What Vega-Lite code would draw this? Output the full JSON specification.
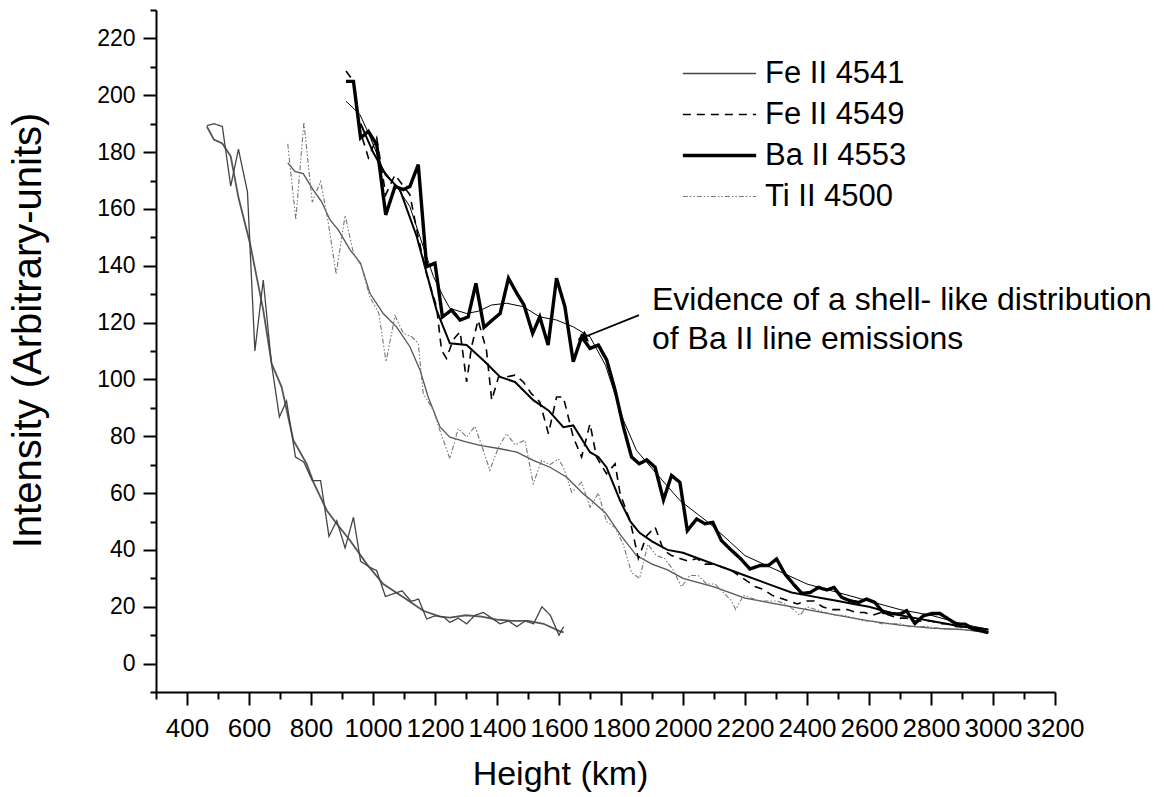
{
  "$schema": "https://vega.github.io/schema/vega-lite/v6.json",
  "width": 899,
  "height": 682,
  "autosize": {"type": "none"},
  "padding": {"left": 156, "top": 10, "right": 109, "bottom": 105},
  "background": "white",
  "config": {
    "font": "Liberation Sans",
    "view": {"stroke": null},
    "axis": {"grid": false, "domainColor": "#000", "domainWidth": 2, "tickColor": "#000", "tickWidth": 2, "labelColor": "#000", "titleColor": "#000", "labelFont": "Liberation Sans", "titleFont": "Liberation Sans", "titleFontWeight": "normal"}
  },
  "datasets": {
    "raw": [
      {"s":"Fe II 4541","x":464,"y":189.3},{"s":"Fe II 4541","x":487,"y":190},{"s":"Fe II 4541","x":514,"y":189},{"s":"Fe II 4541","x":541,"y":168},{"s":"Fe II 4541","x":566,"y":181},{"s":"Fe II 4541","x":595,"y":166},{"s":"Fe II 4541","x":619,"y":110},{"s":"Fe II 4541","x":646,"y":135},{"s":"Fe II 4541","x":672,"y":106},{"s":"Fe II 4541","x":698,"y":86.8},{"s":"Fe II 4541","x":721,"y":92.4},{"s":"Fe II 4541","x":750,"y":72.7},{"s":"Fe II 4541","x":777,"y":70.9},{"s":"Fe II 4541","x":804,"y":64.4},{"s":"Fe II 4541","x":831,"y":64.4},{"s":"Fe II 4541","x":858,"y":44.8},{"s":"Fe II 4541","x":883,"y":50.3},{"s":"Fe II 4541","x":910,"y":40.7},{"s":"Fe II 4541","x":937,"y":51.5},{"s":"Fe II 4541","x":960,"y":36},{"s":"Fe II 4541","x":990,"y":33.9},{"s":"Fe II 4541","x":1012,"y":32.7},{"s":"Fe II 4541","x":1040,"y":23.6},{"s":"Fe II 4541","x":1069,"y":24.7},{"s":"Fe II 4541","x":1094,"y":25.6},{"s":"Fe II 4541","x":1123,"y":21.9},{"s":"Fe II 4541","x":1147,"y":22.7},{"s":"Fe II 4541","x":1173,"y":15.7},{"s":"Fe II 4541","x":1200,"y":16.8},{"s":"Fe II 4541","x":1227,"y":16.5},{"s":"Fe II 4541","x":1248,"y":14.5},{"s":"Fe II 4541","x":1275,"y":16},{"s":"Fe II 4541","x":1302,"y":14},{"s":"Fe II 4541","x":1329,"y":17},{"s":"Fe II 4541","x":1356,"y":18},{"s":"Fe II 4541","x":1383,"y":16},{"s":"Fe II 4541","x":1410,"y":14},{"s":"Fe II 4541","x":1437,"y":15},{"s":"Fe II 4541","x":1464,"y":13},{"s":"Fe II 4541","x":1491,"y":15},{"s":"Fe II 4541","x":1518,"y":14},{"s":"Fe II 4541","x":1545,"y":20},{"s":"Fe II 4541","x":1572,"y":17},{"s":"Fe II 4541","x":1600,"y":10},{"s":"Fe II 4541","x":1615,"y":13},

      {"s":"Ti II 4500","x":725,"y":182.9},{"s":"Ti II 4500","x":751,"y":156.2},{"s":"Ti II 4500","x":777,"y":190.5},{"s":"Ti II 4500","x":804,"y":162.4},{"s":"Ti II 4500","x":831,"y":169.7},{"s":"Ti II 4500","x":856,"y":155},{"s":"Ti II 4500","x":881,"y":137.1},{"s":"Ti II 4500","x":910,"y":157.7},{"s":"Ti II 4500","x":937,"y":144.4},{"s":"Ti II 4500","x":963,"y":139.7},{"s":"Ti II 4500","x":990,"y":129},{"s":"Ti II 4500","x":1019,"y":123.2},{"s":"Ti II 4500","x":1042,"y":106.2},{"s":"Ti II 4500","x":1071,"y":122.4},{"s":"Ti II 4500","x":1098,"y":116.2},{"s":"Ti II 4500","x":1125,"y":115},{"s":"Ti II 4500","x":1146,"y":112.7},{"s":"Ti II 4500","x":1162,"y":95},{"s":"Ti II 4500","x":1195,"y":89.1},{"s":"Ti II 4500","x":1216,"y":82},{"s":"Ti II 4500","x":1248,"y":72.1},{"s":"Ti II 4500","x":1275,"y":82.7},{"s":"Ti II 4500","x":1302,"y":79.7},{"s":"Ti II 4500","x":1329,"y":83.5},{"s":"Ti II 4500","x":1356,"y":75},{"s":"Ti II 4500","x":1377,"y":68},{"s":"Ti II 4500","x":1404,"y":76},{"s":"Ti II 4500","x":1431,"y":80.9},{"s":"Ti II 4500","x":1458,"y":77},{"s":"Ti II 4500","x":1490,"y":78.6},{"s":"Ti II 4500","x":1517,"y":63.3},{"s":"Ti II 4500","x":1544,"y":71.5},{"s":"Ti II 4500","x":1571,"y":70},{"s":"Ti II 4500","x":1598,"y":72},{"s":"Ti II 4500","x":1614,"y":69.1},{"s":"Ti II 4500","x":1641,"y":60.3},{"s":"Ti II 4500","x":1673,"y":63.8},{"s":"Ti II 4500","x":1700,"y":55},{"s":"Ti II 4500","x":1727,"y":60},{"s":"Ti II 4500","x":1753,"y":50},{"s":"Ti II 4500","x":1780,"y":48},{"s":"Ti II 4500","x":1807,"y":42},{"s":"Ti II 4500","x":1834,"y":32},{"s":"Ti II 4500","x":1860,"y":30},{"s":"Ti II 4500","x":1887,"y":42},{"s":"Ti II 4500","x":1914,"y":38},{"s":"Ti II 4500","x":1941,"y":37},{"s":"Ti II 4500","x":1968,"y":33},{"s":"Ti II 4500","x":1995,"y":27},{"s":"Ti II 4500","x":2022,"y":31},{"s":"Ti II 4500","x":2049,"y":31},{"s":"Ti II 4500","x":2076,"y":28},{"s":"Ti II 4500","x":2103,"y":28},{"s":"Ti II 4500","x":2130,"y":25},{"s":"Ti II 4500","x":2157,"y":22},{"s":"Ti II 4500","x":2170,"y":19},{"s":"Ti II 4500","x":2195,"y":24},{"s":"Ti II 4500","x":2222,"y":23},{"s":"Ti II 4500","x":2249,"y":22},{"s":"Ti II 4500","x":2276,"y":22},{"s":"Ti II 4500","x":2303,"y":22},{"s":"Ti II 4500","x":2330,"y":21},{"s":"Ti II 4500","x":2357,"y":19},{"s":"Ti II 4500","x":2377,"y":17},{"s":"Ti II 4500","x":2400,"y":20},{"s":"Ti II 4500","x":2430,"y":19},{"s":"Ti II 4500","x":2460,"y":18},{"s":"Ti II 4500","x":2490,"y":17},{"s":"Ti II 4500","x":2520,"y":17},{"s":"Ti II 4500","x":2550,"y":16},{"s":"Ti II 4500","x":2580,"y":15},{"s":"Ti II 4500","x":2610,"y":15},{"s":"Ti II 4500","x":2640,"y":14},{"s":"Ti II 4500","x":2670,"y":14},{"s":"Ti II 4500","x":2700,"y":14},{"s":"Ti II 4500","x":2730,"y":13},{"s":"Ti II 4500","x":2760,"y":13},{"s":"Ti II 4500","x":2790,"y":13},{"s":"Ti II 4500","x":2820,"y":12.5},{"s":"Ti II 4500","x":2850,"y":12},{"s":"Ti II 4500","x":2880,"y":12},{"s":"Ti II 4500","x":2910,"y":12},{"s":"Ti II 4500","x":2940,"y":11.5},{"s":"Ti II 4500","x":2970,"y":11},{"s":"Ti II 4500","x":2985,"y":11},

      {"s":"Fe II 4549","x":913,"y":208.5},{"s":"Fe II 4549","x":937,"y":205},{"s":"Fe II 4549","x":960,"y":187},{"s":"Fe II 4549","x":985,"y":178},{"s":"Fe II 4549","x":1012,"y":185},{"s":"Fe II 4549","x":1041,"y":165},{"s":"Fe II 4549","x":1071,"y":172},{"s":"Fe II 4549","x":1098,"y":168},{"s":"Fe II 4549","x":1119,"y":165},{"s":"Fe II 4549","x":1146,"y":150},{"s":"Fe II 4549","x":1173,"y":137},{"s":"Fe II 4549","x":1205,"y":125.6},{"s":"Fe II 4549","x":1221,"y":110.3},{"s":"Fe II 4549","x":1237,"y":107.4},{"s":"Fe II 4549","x":1259,"y":114},{"s":"Fe II 4549","x":1281,"y":116.8},{"s":"Fe II 4549","x":1302,"y":99.1},{"s":"Fe II 4549","x":1318,"y":111.5},{"s":"Fe II 4549","x":1339,"y":120.9},{"s":"Fe II 4549","x":1366,"y":110.3},{"s":"Fe II 4549","x":1383,"y":92.7},{"s":"Fe II 4549","x":1405,"y":100.9},{"s":"Fe II 4549","x":1431,"y":100.9},{"s":"Fe II 4549","x":1458,"y":101.5},{"s":"Fe II 4549","x":1485,"y":99.1},{"s":"Fe II 4549","x":1511,"y":95},{"s":"Fe II 4549","x":1538,"y":92.1},{"s":"Fe II 4549","x":1566,"y":80.9},{"s":"Fe II 4549","x":1592,"y":93.8},{"s":"Fe II 4549","x":1614,"y":93.8},{"s":"Fe II 4549","x":1646,"y":79.7},{"s":"Fe II 4549","x":1673,"y":72.7},{"s":"Fe II 4549","x":1700,"y":84.4},{"s":"Fe II 4549","x":1721,"y":72.7},{"s":"Fe II 4549","x":1753,"y":66.8},{"s":"Fe II 4549","x":1781,"y":70.3},{"s":"Fe II 4549","x":1797,"y":59.8},{"s":"Fe II 4549","x":1830,"y":50},{"s":"Fe II 4549","x":1856,"y":37},{"s":"Fe II 4549","x":1883,"y":45},{"s":"Fe II 4549","x":1910,"y":48},{"s":"Fe II 4549","x":1937,"y":40},{"s":"Fe II 4549","x":1963,"y":38},{"s":"Fe II 4549","x":1990,"y":37},{"s":"Fe II 4549","x":2017,"y":36},{"s":"Fe II 4549","x":2044,"y":37},{"s":"Fe II 4549","x":2071,"y":35},{"s":"Fe II 4549","x":2098,"y":35},{"s":"Fe II 4549","x":2125,"y":34},{"s":"Fe II 4549","x":2152,"y":33},{"s":"Fe II 4549","x":2180,"y":31},{"s":"Fe II 4549","x":2207,"y":29},{"s":"Fe II 4549","x":2234,"y":27},{"s":"Fe II 4549","x":2261,"y":26},{"s":"Fe II 4549","x":2288,"y":24},{"s":"Fe II 4549","x":2315,"y":23},{"s":"Fe II 4549","x":2342,"y":22},{"s":"Fe II 4549","x":2369,"y":21},{"s":"Fe II 4549","x":2396,"y":22},{"s":"Fe II 4549","x":2423,"y":22},{"s":"Fe II 4549","x":2450,"y":20},{"s":"Fe II 4549","x":2477,"y":19},{"s":"Fe II 4549","x":2504,"y":19},{"s":"Fe II 4549","x":2531,"y":19},{"s":"Fe II 4549","x":2558,"y":18},{"s":"Fe II 4549","x":2585,"y":18},{"s":"Fe II 4549","x":2612,"y":17},{"s":"Fe II 4549","x":2639,"y":18},{"s":"Fe II 4549","x":2666,"y":17},{"s":"Fe II 4549","x":2693,"y":16},{"s":"Fe II 4549","x":2720,"y":16},{"s":"Fe II 4549","x":2747,"y":15},{"s":"Fe II 4549","x":2774,"y":15},{"s":"Fe II 4549","x":2801,"y":15},{"s":"Fe II 4549","x":2828,"y":14},{"s":"Fe II 4549","x":2855,"y":14},{"s":"Fe II 4549","x":2882,"y":13},{"s":"Fe II 4549","x":2909,"y":13},{"s":"Fe II 4549","x":2936,"y":12},{"s":"Fe II 4549","x":2963,"y":11.5},{"s":"Fe II 4549","x":2985,"y":11},

      {"s":"Ba II 4553","x":913,"y":204.9},{"s":"Ba II 4553","x":937,"y":204.9},{"s":"Ba II 4553","x":960,"y":185},{"s":"Ba II 4553","x":985,"y":187.3},{"s":"Ba II 4553","x":1012,"y":182.6},{"s":"Ba II 4553","x":1041,"y":157.9},{"s":"Ba II 4553","x":1071,"y":167.9},{"s":"Ba II 4553","x":1098,"y":166.8},{"s":"Ba II 4553","x":1119,"y":167.9},{"s":"Ba II 4553","x":1146,"y":175.6},{"s":"Ba II 4553","x":1173,"y":139.7},{"s":"Ba II 4553","x":1200,"y":140.9},{"s":"Ba II 4553","x":1224,"y":122},{"s":"Ba II 4553","x":1253,"y":124.4},{"s":"Ba II 4553","x":1281,"y":120.9},{"s":"Ba II 4553","x":1307,"y":122},{"s":"Ba II 4553","x":1332,"y":133.8},{"s":"Ba II 4553","x":1358,"y":118.3},{"s":"Ba II 4553","x":1385,"y":120.9},{"s":"Ba II 4553","x":1410,"y":123.2},{"s":"Ba II 4553","x":1437,"y":135.6},{"s":"Ba II 4553","x":1464,"y":130.3},{"s":"Ba II 4553","x":1487,"y":126.2},{"s":"Ba II 4553","x":1515,"y":116.2},{"s":"Ba II 4553","x":1538,"y":122},{"s":"Ba II 4553","x":1565,"y":112.1},{"s":"Ba II 4553","x":1592,"y":135.6},{"s":"Ba II 4553","x":1619,"y":125.6},{"s":"Ba II 4553","x":1646,"y":106.2},{"s":"Ba II 4553","x":1673,"y":115},{"s":"Ba II 4553","x":1700,"y":110.9},{"s":"Ba II 4553","x":1727,"y":112.1},{"s":"Ba II 4553","x":1754,"y":106.8},{"s":"Ba II 4553","x":1781,"y":96.2},{"s":"Ba II 4553","x":1808,"y":83.2},{"s":"Ba II 4553","x":1834,"y":72.7},{"s":"Ba II 4553","x":1859,"y":70.3},{"s":"Ba II 4553","x":1883,"y":71.7},{"s":"Ba II 4553","x":1910,"y":69.1},{"s":"Ba II 4553","x":1937,"y":57.6},{"s":"Ba II 4553","x":1963,"y":66.2},{"s":"Ba II 4553","x":1990,"y":63.8},{"s":"Ba II 4553","x":2014,"y":46.8},{"s":"Ba II 4553","x":2044,"y":50.9},{"s":"Ba II 4553","x":2071,"y":49.2},{"s":"Ba II 4553","x":2096,"y":49.7},{"s":"Ba II 4553","x":2124,"y":43.3},{"s":"Ba II 4553","x":2152,"y":40.3},{"s":"Ba II 4553","x":2185,"y":37},{"s":"Ba II 4553","x":2216,"y":33.3},{"s":"Ba II 4553","x":2248,"y":34.5},{"s":"Ba II 4553","x":2275,"y":34.5},{"s":"Ba II 4553","x":2302,"y":36.8},{"s":"Ba II 4553","x":2329,"y":31.5},{"s":"Ba II 4553","x":2356,"y":28},{"s":"Ba II 4553","x":2383,"y":24.7},{"s":"Ba II 4553","x":2410,"y":25},{"s":"Ba II 4553","x":2437,"y":26.8},{"s":"Ba II 4553","x":2464,"y":25.9},{"s":"Ba II 4553","x":2487,"y":26.8},{"s":"Ba II 4553","x":2512,"y":23.3},{"s":"Ba II 4553","x":2539,"y":22.1},{"s":"Ba II 4553","x":2566,"y":21.5},{"s":"Ba II 4553","x":2592,"y":22.7},{"s":"Ba II 4553","x":2619,"y":21.5},{"s":"Ba II 4553","x":2646,"y":18},{"s":"Ba II 4553","x":2673,"y":17.6},{"s":"Ba II 4553","x":2700,"y":17.4},{"s":"Ba II 4553","x":2721,"y":18.6},{"s":"Ba II 4553","x":2748,"y":14.1},{"s":"Ba II 4553","x":2775,"y":16.8},{"s":"Ba II 4553","x":2802,"y":17.6},{"s":"Ba II 4553","x":2829,"y":17.6},{"s":"Ba II 4553","x":2856,"y":15.7},{"s":"Ba II 4553","x":2882,"y":13.9},{"s":"Ba II 4553","x":2910,"y":13.9},{"s":"Ba II 4553","x":2937,"y":12.1},{"s":"Ba II 4553","x":2963,"y":11.5},{"s":"Ba II 4553","x":2985,"y":10.9}
    ],
    "fit": [
      {"s":"Fe II 4541","x":464,"y":189},{"s":"Fe II 4541","x":487,"y":184.4},{"s":"Fe II 4541","x":514,"y":183},{"s":"Fe II 4541","x":541,"y":178.5},{"s":"Fe II 4541","x":566,"y":164},{"s":"Fe II 4541","x":603,"y":148},{"s":"Fe II 4541","x":646,"y":124.4},{"s":"Fe II 4541","x":673,"y":105.6},{"s":"Fe II 4541","x":705,"y":97.4},{"s":"Fe II 4541","x":743,"y":78.6},{"s":"Fe II 4541","x":786,"y":70.3},{"s":"Fe II 4541","x":808,"y":63.8},{"s":"Fe II 4541","x":851,"y":53.9},{"s":"Fe II 4541","x":883,"y":49.2},{"s":"Fe II 4541","x":926,"y":43.3},{"s":"Fe II 4541","x":980,"y":35},{"s":"Fe II 4541","x":1033,"y":28},{"s":"Fe II 4541","x":1098,"y":23.3},{"s":"Fe II 4541","x":1162,"y":18.6},{"s":"Fe II 4541","x":1216,"y":16.5},{"s":"Fe II 4541","x":1248,"y":16.2},{"s":"Fe II 4541","x":1300,"y":17},{"s":"Fe II 4541","x":1350,"y":16.5},{"s":"Fe II 4541","x":1400,"y":15.5},{"s":"Fe II 4541","x":1450,"y":15},{"s":"Fe II 4541","x":1500,"y":15},{"s":"Fe II 4541","x":1550,"y":14},{"s":"Fe II 4541","x":1600,"y":11.5},{"s":"Fe II 4541","x":1615,"y":11},

      {"s":"Ti II 4500","x":725,"y":176.2},{"s":"Ti II 4500","x":748,"y":173.2},{"s":"Ti II 4500","x":775,"y":172.4},{"s":"Ti II 4500","x":807,"y":166.7},{"s":"Ti II 4500","x":834,"y":162.6},{"s":"Ti II 4500","x":861,"y":156.2},{"s":"Ti II 4500","x":888,"y":152.6},{"s":"Ti II 4500","x":926,"y":145.6},{"s":"Ti II 4500","x":960,"y":140.9},{"s":"Ti II 4500","x":990,"y":130.3},{"s":"Ti II 4500","x":1033,"y":123.2},{"s":"Ti II 4500","x":1076,"y":118.5},{"s":"Ti II 4500","x":1119,"y":111.5},{"s":"Ti II 4500","x":1152,"y":103.2},{"s":"Ti II 4500","x":1178,"y":93.8},{"s":"Ti II 4500","x":1216,"y":83.3},{"s":"Ti II 4500","x":1248,"y":79.7},{"s":"Ti II 4500","x":1300,"y":78},{"s":"Ti II 4500","x":1345,"y":76.8},{"s":"Ti II 4500","x":1410,"y":75.6},{"s":"Ti II 4500","x":1464,"y":74.4},{"s":"Ti II 4500","x":1517,"y":71.5},{"s":"Ti II 4500","x":1571,"y":69.1},{"s":"Ti II 4500","x":1625,"y":65.6},{"s":"Ti II 4500","x":1678,"y":59.8},{"s":"Ti II 4500","x":1705,"y":57.4},{"s":"Ti II 4500","x":1750,"y":53},{"s":"Ti II 4500","x":1800,"y":45},{"s":"Ti II 4500","x":1850,"y":38},{"s":"Ti II 4500","x":1900,"y":35},{"s":"Ti II 4500","x":1950,"y":33},{"s":"Ti II 4500","x":2000,"y":30},{"s":"Ti II 4500","x":2100,"y":27},{"s":"Ti II 4500","x":2200,"y":23},{"s":"Ti II 4500","x":2300,"y":21},{"s":"Ti II 4500","x":2400,"y":19},{"s":"Ti II 4500","x":2500,"y":17},{"s":"Ti II 4500","x":2600,"y":15},{"s":"Ti II 4500","x":2700,"y":13.5},{"s":"Ti II 4500","x":2800,"y":12.5},{"s":"Ti II 4500","x":2900,"y":12},{"s":"Ti II 4500","x":2985,"y":11},

      {"s":"Fe II 4549","x":960,"y":190},{"s":"Fe II 4549","x":1000,"y":180},{"s":"Fe II 4549","x":1041,"y":172},{"s":"Fe II 4549","x":1087,"y":166.7},{"s":"Fe II 4549","x":1141,"y":150.3},{"s":"Fe II 4549","x":1173,"y":137.4},{"s":"Fe II 4549","x":1205,"y":124.4},{"s":"Fe II 4549","x":1248,"y":112.7},{"s":"Fe II 4549","x":1302,"y":112.1},{"s":"Fe II 4549","x":1361,"y":106.2},{"s":"Fe II 4549","x":1410,"y":100.9},{"s":"Fe II 4549","x":1458,"y":99.1},{"s":"Fe II 4549","x":1517,"y":92.7},{"s":"Fe II 4549","x":1566,"y":89.1},{"s":"Fe II 4549","x":1614,"y":83.2},{"s":"Fe II 4549","x":1646,"y":83.8},{"s":"Fe II 4549","x":1700,"y":74.4},{"s":"Fe II 4549","x":1727,"y":72.7},{"s":"Fe II 4549","x":1753,"y":69.1},{"s":"Fe II 4549","x":1797,"y":57.4},{"s":"Fe II 4549","x":1830,"y":50},{"s":"Fe II 4549","x":1860,"y":46},{"s":"Fe II 4549","x":1900,"y":43},{"s":"Fe II 4549","x":1950,"y":40},{"s":"Fe II 4549","x":2000,"y":39},{"s":"Fe II 4549","x":2050,"y":37},{"s":"Fe II 4549","x":2100,"y":35},{"s":"Fe II 4549","x":2150,"y":33},{"s":"Fe II 4549","x":2200,"y":31},{"s":"Fe II 4549","x":2250,"y":29},{"s":"Fe II 4549","x":2300,"y":27},{"s":"Fe II 4549","x":2350,"y":25},{"s":"Fe II 4549","x":2400,"y":24},{"s":"Fe II 4549","x":2450,"y":23},{"s":"Fe II 4549","x":2500,"y":22},{"s":"Fe II 4549","x":2550,"y":21},{"s":"Fe II 4549","x":2600,"y":20},{"s":"Fe II 4549","x":2650,"y":18.5},{"s":"Fe II 4549","x":2700,"y":17},{"s":"Fe II 4549","x":2750,"y":16},{"s":"Fe II 4549","x":2800,"y":15},{"s":"Fe II 4549","x":2850,"y":14},{"s":"Fe II 4549","x":2900,"y":13},{"s":"Fe II 4549","x":2950,"y":12.5},{"s":"Fe II 4549","x":2985,"y":12},

      {"s":"Ba II 4553","x":913,"y":197.9},{"s":"Ba II 4553","x":958,"y":193.2},{"s":"Ba II 4553","x":990,"y":185.5},{"s":"Ba II 4553","x":1033,"y":173.8},{"s":"Ba II 4553","x":1076,"y":167.9},{"s":"Ba II 4553","x":1119,"y":160.8},{"s":"Ba II 4553","x":1162,"y":146.7},{"s":"Ba II 4553","x":1195,"y":136.2},{"s":"Ba II 4553","x":1227,"y":129.1},{"s":"Ba II 4553","x":1248,"y":125},{"s":"Ba II 4553","x":1302,"y":123.2},{"s":"Ba II 4553","x":1340,"y":124},{"s":"Ba II 4553","x":1383,"y":126.2},{"s":"Ba II 4553","x":1431,"y":126.8},{"s":"Ba II 4553","x":1485,"y":125.6},{"s":"Ba II 4553","x":1538,"y":122},{"s":"Ba II 4553","x":1592,"y":120.9},{"s":"Ba II 4553","x":1646,"y":118.5},{"s":"Ba II 4553","x":1700,"y":115},{"s":"Ba II 4553","x":1750,"y":105},{"s":"Ba II 4553","x":1808,"y":85.6},{"s":"Ba II 4553","x":1850,"y":75},{"s":"Ba II 4553","x":1910,"y":67.4},{"s":"Ba II 4553","x":1990,"y":57.4},{"s":"Ba II 4553","x":2087,"y":49.2},{"s":"Ba II 4553","x":2150,"y":43},{"s":"Ba II 4553","x":2200,"y":38},{"s":"Ba II 4553","x":2300,"y":33},{"s":"Ba II 4553","x":2400,"y":28},{"s":"Ba II 4553","x":2500,"y":25},{"s":"Ba II 4553","x":2600,"y":22},{"s":"Ba II 4553","x":2700,"y":19},{"s":"Ba II 4553","x":2800,"y":17},{"s":"Ba II 4553","x":2900,"y":14},{"s":"Ba II 4553","x":2985,"y":12}
    ],
    "note": [
      {"x":1900,"y":124.4,"t":"Evidence of a shell- like distribution"},
      {"x":1900,"y":110.7,"t":"of Ba II line emissions"}
    ],
    "arrow": [
      {"x":1858,"y":122.6,"x2":1668,"y2":114.3}
    ],
    "head": [
      {"x":1675,"y":114.6}
    ]
  },
  "encoding": {
    "x": {
      "field": "x", "type": "quantitative",
      "scale": {"domain": [300, 3200], "nice": false, "zero": false},
      "axis": {
        "title": "Height (km)", "titleFontSize": 34, "titleX": 404, "titleY": 92, "titleBaseline": "alphabetic", "titleAlign": "center", "titleAnchor": null,
        "values": [300,400,500,600,700,800,900,1000,1100,1200,1300,1400,1500,1600,1700,1800,1900,2000,2100,2200,2300,2400,2500,2600,2700,2800,2900,3000,3100,3200],
        "format": "d",
        "labelExpr": "datum.value % 200 === 0 ? datum.label : ''",
        "labelFontSize": 26, "labelPadding": 10, "labelOverlap": false, "labelFlush": false,
        "tickSize": {"condition": {"test": "datum.value % 200 === 0", "value": 13}, "value": 7}
      }
    },
    "y": {
      "field": "y", "type": "quantitative",
      "scale": {"domain": [-10, 230], "nice": false, "zero": false},
      "axis": {
        "title": "Intensity (Arbitrary-units)", "titleFontSize": 40, "titleAngle": -90, "titleX": -116, "titleY": 320, "titleBaseline": "alphabetic", "titleAlign": "center", "titleAnchor": null,
        "values": [-10,0,10,20,30,40,50,60,70,80,90,100,110,120,130,140,150,160,170,180,190,200,210,220,230],
        "format": "d",
        "labelExpr": "datum.value % 20 === 0 ? datum.label : ''",
        "labelFontSize": 23, "labelPadding": 8, "labelOverlap": false, "labelFlush": false,
        "tickSize": {"condition": {"test": "datum.value % 20 === 0", "value": 13}, "value": 6}
      }
    }
  },
  "layer": [
    {
      "data": {"name": "fit"},
      "transform": [{"filter": "datum.s === 'Fe II 4541'"}],
      "mark": {"type": "line", "color": "#555555", "strokeWidth": 1.8},
      "encoding": {}
    },
    {
      "data": {"name": "fit"},
      "transform": [{"filter": "datum.s === 'Ti II 4500'"}],
      "mark": {"type": "line", "color": "#555555", "strokeWidth": 1.3},
      "encoding": {}
    },
    {
      "data": {"name": "raw"},
      "mark": {"type": "line", "strokeCap": "butt", "strokeJoin": "miter"},
      "encoding": {
        "detail": {"field": "s", "type": "nominal"},
        "color": {"field": "s", "type": "nominal", "title": null,
          "scale": {"domain": ["Fe II 4541","Fe II 4549","Ba II 4553","Ti II 4500"], "range": ["#444444","#000000","#000000","#777777"]},
          "legend": {"orient": "none", "legendX": 548, "legendY": 48, "padding": 0, "symbolType": "M-7.33,0H7.33", "symbolSize": 100, "labelFontSize": 31, "labelOffset": 30, "rowPadding": 9, "labelColor": "#000", "labelBaseline": "middle", "labelExpr": "datum.label === 'Fe II 4549' ? '\u00a0Fe II 4549' : datum.label"}},
        "strokeDash": {"field": "s", "type": "nominal", "title": null,
          "scale": {"domain": ["Fe II 4541","Fe II 4549","Ba II 4553","Ti II 4500"], "range": [[1,0],[8,6],[1,0],[5,2,1.5,2,1.5,2]]},
          "legend": {"orient": "none", "legendX": 548, "legendY": 48, "padding": 0, "symbolType": "M-7.33,0H7.33", "symbolSize": 100, "labelFontSize": 31, "labelOffset": 30, "rowPadding": 9, "labelColor": "#000", "labelBaseline": "middle", "labelExpr": "datum.label === 'Fe II 4549' ? '\u00a0Fe II 4549' : datum.label"}},
        "strokeWidth": {"field": "s", "type": "nominal", "title": null,
          "scale": {"type": "ordinal", "domain": ["Fe II 4541","Fe II 4549","Ba II 4553","Ti II 4500"], "range": [1.3,1.6,3.4,1.1]},
          "legend": {"orient": "none", "legendX": 548, "legendY": 48, "padding": 0, "symbolType": "M-7.33,0H7.33", "symbolSize": 100, "labelFontSize": 31, "labelOffset": 30, "rowPadding": 9, "labelColor": "#000", "labelBaseline": "middle", "labelExpr": "datum.label === 'Fe II 4549' ? '\u00a0Fe II 4549' : datum.label"}}
      }
    },
    {
      "data": {"name": "fit"},
      "transform": [{"filter": "datum.s === 'Fe II 4549'"}],
      "mark": {"type": "line", "color": "#000000", "strokeWidth": 2},
      "encoding": {}
    },
    {
      "data": {"name": "fit"},
      "transform": [{"filter": "datum.s === 'Ba II 4553'"}],
      "mark": {"type": "line", "color": "#000000", "strokeWidth": 1},
      "encoding": {}
    },
    {
      "data": {"name": "note"},
      "mark": {"type": "text", "align": "left", "baseline": "alphabetic", "fontSize": 32, "color": "#000", "font": "Liberation Sans"},
      "encoding": {"text": {"field": "t", "type": "nominal"}}
    },
    {
      "data": {"name": "arrow"},
      "mark": {"type": "rule", "color": "#000", "strokeWidth": 1.8},
      "encoding": {"x2": {"field": "x2"}, "y2": {"field": "y2"}}
    },
    {
      "data": {"name": "head"},
      "mark": {"type": "point", "shape": "triangle-up", "filled": true, "color": "#000", "size": 130, "angle": 248.6, "opacity": 1},
      "encoding": {}
    }
  ]
}
